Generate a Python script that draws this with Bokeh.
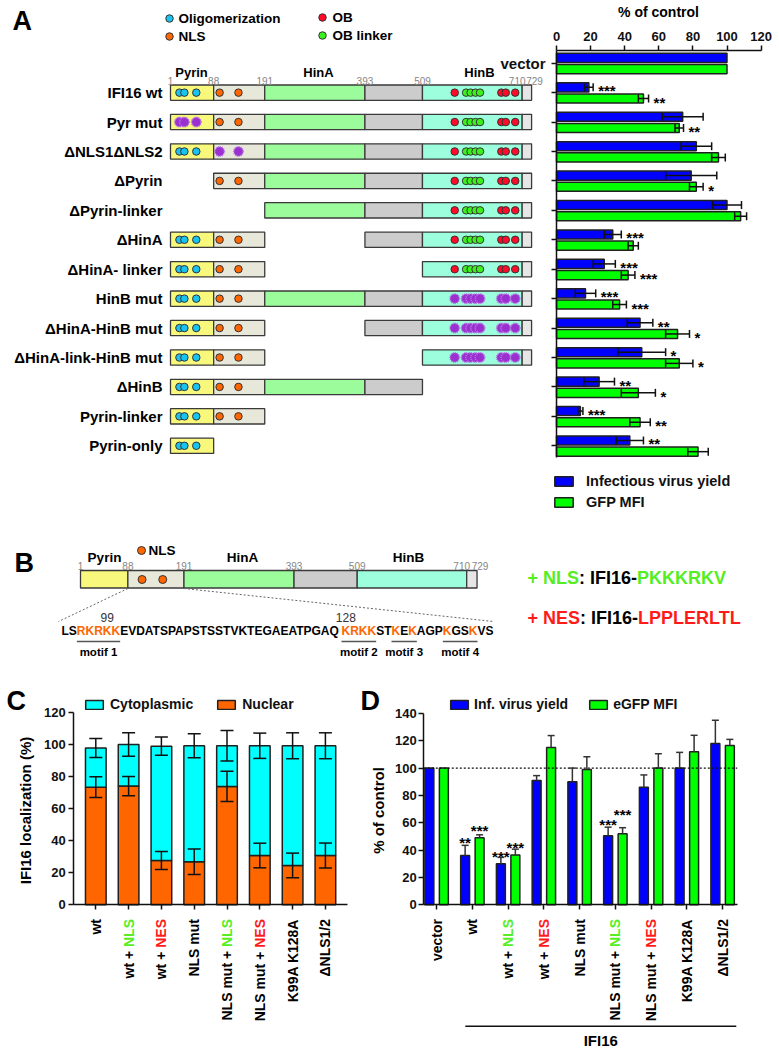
import numpy as np
from bokeh.plotting import figure
from bokeh.models import (ColumnDataSource, Range1d, FixedTicker, Whisker, TeeHead,
                          Legend, LegendItem, LinearAxis)
from bokeh.core.properties import value
from bokeh.embed import file_html
from bokeh.resources import INLINE

# ====================== DATA ======================
# ---- Panel A ----
constructs = ["vector", "IFI16 wt", "Pyr mut", "\u0394NLS1\u0394NLS2", "\u0394Pyrin",
              "\u0394Pyrin-linker", "\u0394HinA", "\u0394HinA- linker", "HinB mut",
              "\u0394HinA-HinB mut", "\u0394HinA-link-HinB mut", "\u0394HinB",
              "Pyrin-linker", "Pyrin-only"]
virus_yield = [100, 19, 74, 82, 79, 100, 33, 28, 17, 49, 50, 25, 14, 43]
virus_yield_err = [0, 2.5, 12, 9, 15, 8.5, 5, 6.5, 6, 7.5, 14, 9, 1.5, 8]
gfp_mfi = [100, 51, 72, 95, 82, 108, 45, 42, 37, 71, 72, 48, 49, 83]
gfp_mfi_err = [0, 3, 2.5, 4, 4, 3.5, 3, 4, 4, 7, 8, 10, 6, 6]
virus_yield_sig = ["", "***", "", "", "", "", "***", "***", "***", "**", "*", "**", "***", "**"]
gfp_mfi_sig = ["", "**", "**", "", "*", "", "", "***", "***", "*", "*", "*", "**", ""]
pct_ticks = [0, 20, 40, 60, 80, 100, 120]

domain_start = [1, 88, 191, 393, 509, 710]
domain_end = [88, 191, 393, 509, 710, 729]
domain_titles = ["Pyrin", "HinA", "HinB"]
boundary_aa = [1, 88, 191, 393, 509, 710, 729]
construct_domains = [[], [0, 1, 2, 3, 4, 5], [0, 1, 2, 3, 4, 5], [0, 1, 2, 3, 4, 5],
                     [1, 2, 3, 4, 5], [2, 3, 4, 5], [0, 1, 3, 4, 5], [0, 1, 4, 5],
                     [0, 1, 2, 3, 4, 5], [0, 1, 3, 4, 5], [0, 1, 4, 5], [0, 1, 2, 3],
                     [0, 1], [0]]
construct_mutated = [[], [], ["oligo"], ["nls"], [], [], [], [], ["ob"], ["ob"], ["ob"], [], [], []]
oligo_aa = [19, 29, 53]
nls_aa = [100, 138]
ob_aa = [574, 668, 677, 696]
ob_linker_aa = [597, 606, 616, 625]
feature_legend = ["Oligomerization", "NLS", "OB", "OB linker"]

# ---- Panel B ----
b_nls_aa = [114, 152]
nls_sequence = "LSRKRKKEVDATSPAPSTSSTVKTEGAEATPGAQKRKKSTKEKAGPKGSKVS"
basic_residue_idx = [2, 3, 4, 5, 6, 34, 35, 36, 37, 40, 42, 46, 49]
residue_marks = ["99", "128"]
residue_mark_idx = [5, 34]
motif_labels = ["motif 1", "motif 2", "motif 3", "motif 4"]
motif_first_idx = [2, 34, 40, 46]
motif_last_idx = [6, 37, 42, 49]
nls_tag = "PKKKRKV"
nes_tag = "LPPLERLTL"

# ---- Panel C ----
c_labels = ["wt", "wt + NLS", "wt + NES", "NLS mut", "NLS mut + NLS", "NLS mut + NES",
            "K99A K128A", "\u0394NLS1/2"]
nuclear = [73.5, 74.2, 27.7, 26.9, 74.0, 30.8, 24.6, 30.8]
nuclear_err = [6.5, 6.0, 5.6, 7.9, 9.5, 7.7, 7.7, 7.8]
cytoplasmic = [24.5, 26.0, 71.4, 72.5, 25.4, 68.6, 74.8, 68.6]
cytoplasmic_err = [6.0, 7.3, 5.7, 7.5, 9.5, 7.9, 8.1, 8.1]
c_ticks = [0, 20, 40, 60, 80, 100, 120]

# ---- Panel D ----
d_labels = ["vector", "wt", "wt + NLS", "wt + NES", "NLS mut", "NLS mut + NLS",
            "NLS mut + NES", "K99A K128A", "\u0394NLS1/2"]
inf_yield = [100, 36, 30, 91, 90, 50.5, 86, 100, 118]
inf_yield_err = [0, 7.5, 4.7, 3.5, 10, 6.3, 9, 11.5, 17]
egfp_mfi = [100, 49, 36.5, 115, 99, 52, 100, 112, 116.5]
egfp_mfi_err = [0, 2.2, 4.2, 8.8, 9.3, 4.4, 10.5, 12, 4.5]
inf_yield_sig = ["", "**", "***", "", "", "***", "", "", ""]
egfp_mfi_sig = ["", "***", "***", "", "", "***", "", "", ""]
d_ticks = [0, 20, 40, 60, 80, 100, 120, 140]

# ====================== STYLE ======================
FONT = "Liberation Sans"
BLACK = "#111111"
OUTLINE = "#3a3a3a"
BLUE = "#0000ff"
GREEN = "#00ff00"
CYAN = "#00ffff"
ORANGE = "#ff6600"
DOT_CYAN = "#19c3f0"
DOT_RED = "#ff0a28"
DOT_GREEN = "#3cf01e"
PURPLE = "#9b30d0"
TXT_GREEN = "#55ee22"
TXT_RED = "#ff1a1a"
GRAY_NUM = "#858585"
DOMAIN_COLORS = ["#f8f87c", "#e8e8da", "#9cfc9c", "#cccccc", "#9cfedc", "#e6e6e6"]

W = {' ': 278, '+': 584, '-': 333, ':': 333, '/': 278, '.': 278, '(': 333, ')': 333,
     '%': 889, '*': 389, '\u0394': 700}
for _d in "0123456789":
    W[_d] = 556
W.update(dict(A=722, B=722, C=722, D=722, E=667, F=611, G=778, H=722, I=278, J=556, K=722,
              L=611, M=833, N=722, O=778, P=667, Q=778, R=722, S=667, T=611, U=722, V=667,
              W=944, X=667, Y=667, Z=611))
W.update(dict(a=556, b=611, c=556, d=611, e=556, f=333, g=611, h=611, i=278, j=278, k=556,
              l=278, m=889, n=611, o=611, p=611, q=611, r=389, s=556, t=333, u=611, v=556,
              w=778, x=556, y=556, z=500))


def tw(s, size):
    return sum(W.get(ch, 600) for ch in s) * size / 1000.0


# ====================== CANVAS & SCALES ======================
CW, CH = 779, 1050


def xr(p0, v0, k):
    return Range1d(v0 + (0 - p0) / k, v0 + (CW - p0) / k)


def yr(p0, v0, k):
    return Range1d(v0 + (CH - p0) / k, v0 + (0 - p0) / k)


p = figure(width=CW, height=CH, x_range=Range1d(0, CW), y_range=Range1d(CH, 0),
           min_border_left=0, min_border_right=0, min_border_top=0, min_border_bottom=0,
           x_axis_location=None, y_axis_location=None, toolbar_location=None,
           output_backend="svg", outline_line_color=None,
           background_fill_color="white", border_fill_color="white")
p.grid.visible = False

AX0, AK = 170.0, 0.496        # panel A diagram: residue -> px
RY0, RS = 62.7, 29.43         # panel A rows
PX0, PK = 556.0, 1.705        # panel A bars: % -> px
BX0, BK = 80.0, 0.5447        # panel B diagram
CX0, CS, CY0, CK = 95.3, 32.8, 904.3, 1.6
DX0, DS, DY0, DK = 436.2, 35.75, 904.3, 1.367

p.extra_x_ranges = {"aaA": xr(AX0, 1, AK), "pct": xr(PX0, 0, PK), "aaB": xr(BX0, 1, BK),
                    "cx": xr(CX0, 0, CS), "dx": xr(DX0, 0, DS)}
p.extra_y_ranges = {"rowsA": yr(RY0, 0, RS), "cy": yr(CY0, 0, -CK), "dy": yr(DY0, 0, -DK)}


def ax(px):
    return 1 + (px - AX0) / AK


def ay(py):
    return (py - RY0) / RS


def bx(px):
    return 1 + (px - BX0) / BK


def cx(px):
    return (px - CX0) / CS


def cy(py):
    return (CY0 - py) / CK


def dx(px):
    return (px - DX0) / DS


def dy(py):
    return (DY0 - py) / DK


def txt(xs, ys, texts, size, color="#000000", bold=True, align="left", baseline="middle",
        angle=0.0, xn="default", yn="default"):
    n = len(texts)
    colors = color if isinstance(color, list) else [color] * n
    src = ColumnDataSource(dict(x=list(xs), y=list(ys), t=list(texts), c=colors))
    return p.text(x="x", y="y", text="t", text_color="c", source=src,
                  text_font=value(FONT), text_font_size=f"{size}px",
                  text_font_style="bold" if bold else "normal",
                  text_align=align, text_baseline=baseline, angle=angle,
                  x_range_name=xn, y_range_name=yn)


def style_axis(a, label_size=13):
    a.axis_line_width = 1.5
    a.axis_line_color = BLACK
    a.major_tick_line_width = 1.5
    a.major_tick_line_color = BLACK
    a.major_tick_out = 5
    a.major_tick_in = 0
    a.minor_tick_line_color = None
    a.major_label_text_font = FONT
    a.major_label_text_font_style = "bold"
    a.major_label_text_font_size = f"{label_size}px"
    a.major_label_text_color = BLACK


def add_axis(side, xn, yn, loc, ticks, bounds, standoff=3, overrides=None, label_size=13):
    a = LinearAxis(x_range_name=xn, y_range_name=yn, fixed_location=loc,
                   ticker=FixedTicker(ticks=ticks), bounds=bounds)
    style_axis(a, label_size)
    a.major_label_standoff = standoff
    if overrides is not None:
        a.major_label_overrides = overrides
    p.add_layout(a, side)
    return a


def colored_parts(lbl):
    for tag, col in (("NLS", TXT_GREEN), ("NES", TXT_RED)):
        if lbl.endswith(" + " + tag):
            return [(lbl[:-len(tag) - 1], "#000000"), (tag, col)]
    return [(lbl, "#000000")]


def rotated_labels(labels, y_top_px, to_y, xn, yn, size=14):
    xs, ys, ts, cs = [], [], [], []
    for i, lbl in enumerate(labels):
        off = 0.0
        for t, c in reversed(colored_parts(lbl)):
            xs.append(i); ys.append(to_y(y_top_px + off)); ts.append(t); cs.append(c)
            off += tw(t, size) + tw(" ", size)
    txt(xs, ys, ts, size, color=cs, align="right", baseline="middle", angle=np.pi / 2,
        xn=xn, yn=yn)


def legend(items, loc, glyph_w, glyph_h, standoff, spacing, orientation, size):
    lg = Legend(items=[LegendItem(label=l, renderers=[r]) for l, r in items], location=loc,
                orientation=orientation, glyph_width=glyph_w, glyph_height=glyph_h,
                label_height=glyph_h, label_standoff=standoff, spacing=spacing, padding=0,
                margin=0, border_line_color=None, background_fill_alpha=0,
                label_text_font=FONT, label_text_font_style="bold",
                label_text_font_size=f"{size}px", label_text_color=BLACK)
    p.add_layout(lg)


# ====================== PANEL A: diagram ======================
BOX_H = 0.26
q = dict(l=[], r=[], t=[], b=[], c=[])
for i, doms in enumerate(construct_domains):
    for d in doms:
        q["l"].append(domain_start[d]); q["r"].append(domain_end[d])
        q["t"].append(i - BOX_H); q["b"].append(i + BOX_H); q["c"].append(DOMAIN_COLORS[d])
p.quad(left="l", right="r", top="t", bottom="b", fill_color="c", line_color=OUTLINE,
       line_width=1.3, source=ColumnDataSource(q), x_range_name="aaA", y_range_name="rowsA")

feat = [("oligo", 0, oligo_aa, DOT_CYAN), ("nls", 1, nls_aa, ORANGE),
        ("ob", 4, ob_aa, DOT_RED), ("ob", 4, ob_linker_aa, DOT_GREEN)]
norm = dict(x=[], y=[], c=[])
mut = dict(x=[], y=[])
for i, doms in enumerate(construct_domains):
    for key, dom, positions, col in feat:
        if dom not in doms:
            continue
        for pos in positions:
            if key in construct_mutated[i]:
                mut["x"].append(pos); mut["y"].append(i)
            else:
                norm["x"].append(pos); norm["y"].append(i); norm["c"].append(col)
p.scatter(x="x", y="y", size=7.5, fill_color="c", line_color="#333333", line_width=1,
          source=ColumnDataSource(norm), x_range_name="aaA", y_range_name="rowsA")
p.scatter(x="x", y="y", size=9.5, fill_color=PURPLE, line_color="#b878e6", line_width=1.6,
          line_dash="1 1", source=ColumnDataSource(mut), x_range_name="aaA",
          y_range_name="rowsA")

txt([162] * 13, list(range(1, 14)), constructs[1:], 15, align="right", yn="rowsA")
txt([ax(191), ax(318), ax(479)], [72] * 3, domain_titles, 13, align="center", xn="aaA")
num_nudge = [0, 0, 0, 0, 0, -5, 3]
txt([a + nn / AK for a, nn in zip(boundary_aa, num_nudge)], [80.5] * 7,
    [str(a) for a in boundary_aa], 10, color=GRAY_NUM, bold=False, align="center", xn="aaA")
p.scatter(x=[169, 169, 322, 322], y=[18, 36, 17, 35], size=7.5,
          fill_color=[DOT_CYAN, ORANGE, DOT_RED, DOT_GREEN], line_color="#333333",
          line_width=1)
txt([178, 178, 332, 332], [18, 36, 17, 35], feature_legend, 13.5)
txt([12], [20], ["A"], 27)

# ====================== PANEL A: bars ======================
idx = np.arange(len(constructs))
yb = idx - 0.18
yg = idx + 0.20
srcA = ColumnDataSource(dict(yb=yb, yg=yg, vy=virus_yield, gm=gfp_mfi))
rb = p.hbar(y="yb", left=0, right="vy", height=0.31, fill_color=BLUE, line_color="#202020",
            line_width=1.5, source=srcA, x_range_name="pct", y_range_name="rowsA")
rg = p.hbar(y="yg", left=0, right="gm", height=0.31, fill_color=GREEN, line_color="#202020",
            line_width=1.5, source=srcA, x_range_name="pct", y_range_name="rowsA")
for ys, vals, errs, sigs in ((yb, virus_yield, virus_yield_err, virus_yield_sig),
                             (yg, gfp_mfi, gfp_mfi_err, gfp_mfi_sig)):
    m = [k for k in range(len(vals)) if errs[k] > 0]
    ws = ColumnDataSource(dict(b=[ys[k] for k in m], lo=[vals[k] - errs[k] for k in m],
                               hi=[vals[k] + errs[k] for k in m]))
    p.add_layout(Whisker(source=ws, base="b", lower="lo", upper="hi", dimension="width",
                         line_width=1.5, line_color=BLACK, level="annotation",
                         x_range_name="pct", y_range_name="rowsA",
                         upper_head=TeeHead(size=8, line_width=1.5, line_color=BLACK),
                         lower_head=TeeHead(size=8, line_width=1.5, line_color=BLACK)))
    s = [k for k in range(len(vals)) if sigs[k]]
    txt([vals[k] + errs[k] + 5 / PK for k in s], [ys[k] + 3.5 / RS for k in s],
        [sigs[k] for k in s], 15, baseline="middle", xn="pct", yn="rowsA")

add_axis("above", "pct", "rowsA", ay(50), pct_ticks, (0, 120), standoff=5)
add_axis("left", "pct", "rowsA", 0, list(range(len(constructs))), (ay(50), ay(457)),
         standoff=6, label_size=15,
         overrides={i: (constructs[0] if i == 0 else "") for i in range(len(constructs))})
txt([658], [11], ["% of control"], 14, align="center")
legend([("Infectious virus yield", rb), ("GFP MFI", rg)], (552, CH - 510), 23, 12, 11, 5,
       "vertical", 14.5)

# ====================== PANEL B ======================
p.quad(left=domain_start, right=domain_end, top=570, bottom=587.5, fill_color=DOMAIN_COLORS,
       line_color=OUTLINE, line_width=1.3, x_range_name="aaB")
p.scatter(x=b_nls_aa, y=[579] * len(b_nls_aa), size=8, fill_color=ORANGE,
          line_color="#333333", line_width=1, x_range_name="aaB")
p.scatter(x=[141], y=[550], size=8, fill_color=ORANGE, line_color="#333333", line_width=1)
txt([148], [550], ["NLS"], 13.5)
txt([bx(104), bx(242), bx(408)], [557] * 3, domain_titles, 13.5, align="center", xn="aaB")
txt([a + nn / BK for a, nn in zip(boundary_aa, num_nudge)], [565] * 7,
    [str(a) for a in boundary_aa], 10, color=GRAY_NUM, bold=False, align="center", xn="aaB")
txt([14], [562], ["B"], 27)

SEQ_X0, SEQ_FS = 61.0, 12
p.segment(x0=[88, 191], y0=[588, 588],
          x1=[bx(SEQ_X0 - 3), bx(SEQ_X0 + tw(nls_sequence, SEQ_FS))], y1=[621, 621],
          line_dash="2 2", line_color="#666666", line_width=1, x_range_name="aaB")
oset = set(basic_residue_idx)
runs = []
k = 0
while k < len(nls_sequence):
    j = k
    while j < len(nls_sequence) and ((j in oset) == (k in oset)):
        j += 1
    runs.append((k, nls_sequence[k:j], ORANGE if k in oset else "#000000"))
    k = j
txt([SEQ_X0 + tw(nls_sequence[:s], SEQ_FS) for s, _, _ in runs], [630.5] * len(runs),
    [t for _, t, _ in runs], SEQ_FS, color=[c for _, _, c in runs])
txt([SEQ_X0 + tw(nls_sequence[:i], SEQ_FS) + tw(nls_sequence[i], SEQ_FS) / 2
     for i in residue_mark_idx], [616.5] * 2, residue_marks, 12, color="#333333",
    bold=False, align="center")
mx0 = [SEQ_X0 + tw(nls_sequence[:a], SEQ_FS) for a in motif_first_idx]
mx1 = [SEQ_X0 + tw(nls_sequence[:b + 1], SEQ_FS) for b in motif_last_idx]
p.segment(x0=mx0, y0=[641] * 4, x1=mx1, y1=[641] * 4, line_color="#555555", line_width=1.5)
txt([(a + b) / 2 for a, b in zip(mx0, mx1)], [651.5] * 4, motif_labels, 11.5, align="center")
TAG_FS = 18
for yy, parts in ((577, [("+ NLS", TXT_GREEN), (": IFI16-", "#000000"), (nls_tag, TXT_GREEN)]),
                  (617, [("+ NES", TXT_RED), (": IFI16-", "#000000"), (nes_tag, TXT_RED)])):
    xs, acc = [], 527.0
    for t, c in parts:
        xs.append(acc); acc += tw(t, TAG_FS)
    txt(xs, [yy] * len(parts), [t for t, _ in parts], TAG_FS, color=[c for _, c in parts])

# ====================== PANEL C ======================
srcC = ColumnDataSource(dict(x=list(range(len(c_labels))), nuclear=nuclear,
                             cytoplasmic=cytoplasmic))
rC = p.vbar_stack(["nuclear", "cytoplasmic"], x="x", width=0.63, color=[ORANGE, CYAN],
                  line_color="#202020", line_width=1.5, source=srcC, x_range_name="cx",
                  y_range_name="cy")
tot = [n + c for n, c in zip(nuclear, cytoplasmic)]
for vals, errs in ((nuclear, nuclear_err), (tot, cytoplasmic_err)):
    ws = ColumnDataSource(dict(b=list(range(len(vals))), lo=[v - e for v, e in zip(vals, errs)],
                               hi=[v + e for v, e in zip(vals, errs)]))
    p.add_layout(Whisker(source=ws, base="b", lower="lo", upper="hi", dimension="height",
                         line_width=1.5, line_color=BLACK, level="annotation",
                         x_range_name="cx", y_range_name="cy",
                         upper_head=TeeHead(size=13, line_width=1.5, line_color=BLACK),
                         lower_head=TeeHead(size=13, line_width=1.5, line_color=BLACK)))
add_axis("left", "cx", "cy", cx(73.3), c_ticks, (0, 120), standoff=3)
add_axis("below", "cx", "cy", 0, list(range(len(c_labels))), (cx(73.3), cx(347)),
         overrides={i: "" for i in range(len(c_labels))})
txt([25], [810], ["IFI16 localization (%)"], 15, align="center", angle=np.pi / 2)
legend([("Cytoplasmic", rC[1]), ("Nuclear", rC[0])], (83, CH - 712), 22, 11, 5, 22,
       "horizontal", 14)
rotated_labels(c_labels, 918.5, cy, "cx", "cy")
txt([6], [700], ["C"], 27)

# ====================== PANEL D ======================
gi = np.arange(len(d_labels))
xb = gi - 0.205
xg = gi + 0.20
srcD = ColumnDataSource(dict(xb=xb, xg=xg, iy=inf_yield, eg=egfp_mfi))
rDb = p.vbar(x="xb", top="iy", bottom=0, width=0.25, fill_color=BLUE, line_color="#202020",
             line_width=1.5, source=srcD, x_range_name="dx", y_range_name="dy")
rDg = p.vbar(x="xg", top="eg", bottom=0, width=0.25, fill_color=GREEN, line_color="#202020",
             line_width=1.5, source=srcD, x_range_name="dx", y_range_name="dy")
D_LEFT, D_RIGHT = dx(423.3), dx(736.7)
p.segment(x0=[D_LEFT], y0=[100], x1=[D_RIGHT], y1=[100], line_dash="2 2", line_color=BLACK,
          line_width=1.2, x_range_name="dx", y_range_name="dy")
star_lift = {("b", 1): 6, ("g", 1): 8, ("b", 2): 4, ("g", 2): 5, ("b", 5): 6, ("g", 5): 17}
for key, xs_, vals, errs, sigs in (("b", xb, inf_yield, inf_yield_err, inf_yield_sig),
                                   ("g", xg, egfp_mfi, egfp_mfi_err, egfp_mfi_sig)):
    m = [k for k in range(len(vals)) if errs[k] > 0]
    ws = ColumnDataSource(dict(b=[xs_[k] for k in m], lo=[vals[k] for k in m],
                               hi=[vals[k] + errs[k] for k in m]))
    p.add_layout(Whisker(source=ws, base="b", lower="lo", upper="hi", dimension="height",
                         line_width=1.5, line_color="#333333", level="annotation",
                         x_range_name="dx", y_range_name="dy",
                         upper_head=TeeHead(size=7, line_width=1.5, line_color="#333333"),
                         lower_head=None))
    s = [k for k in range(len(vals)) if sigs[k]]
    txt([xs_[k] for k in s],
        [vals[k] + errs[k] + (star_lift.get((key, k), 6) - 3.5) / DK for k in s],
        [sigs[k] for k in s], 15, align="center", baseline="middle", xn="dx", yn="dy")
add_axis("left", "dx", "dy", D_LEFT, d_ticks, (0, 140), standoff=2)
add_axis("below", "dx", "dy", 0, list(range(len(d_labels))), (D_LEFT, D_RIGHT),
         overrides={i: "" for i in range(len(d_labels))})
txt([378], [810], ["% of control"], 15, align="center", angle=np.pi / 2)
legend([("Inf. virus yield", rDb), ("eGFP MFI", rDg)], (448, CH - 712), 22, 11, 4, 19,
       "horizontal", 14)
rotated_labels(d_labels, 918.5, dy, "dx", "dy")
br0, br1 = 1 - 0.2, len(d_labels) - 1 + 0.38
p.segment(x0=[br0], y0=[dy(1025.7)], x1=[br1], y1=[dy(1025.7)], line_color=BLACK,
          line_width=1.5, x_range_name="dx", y_range_name="dy")
txt([(br0 + br1) / 2], [dy(1040)], ["IFI16"], 15, align="center", xn="dx", yn="dy")
txt([360], [700], ["D"], 27)

open("out.html", "w").write(file_html(p, INLINE))
